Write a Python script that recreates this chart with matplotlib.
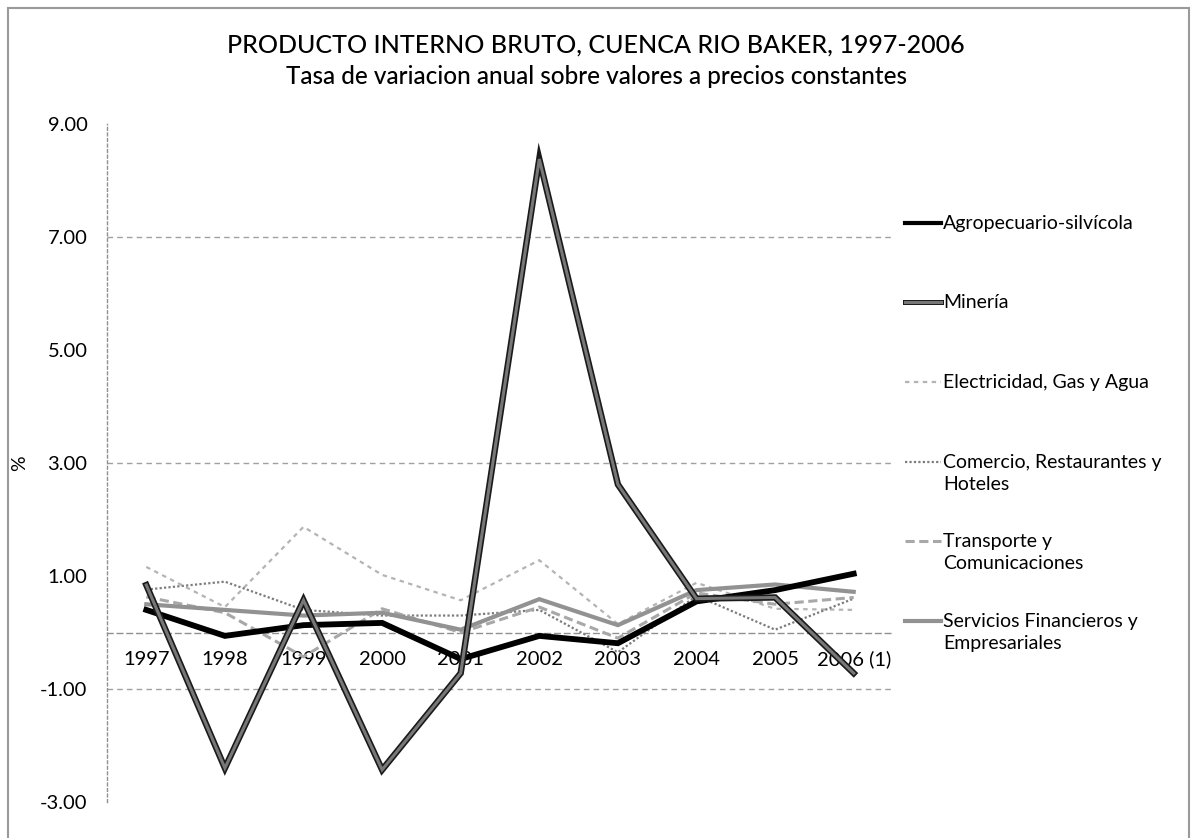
import matplotlib
matplotlib.use("Agg")
import matplotlib.pyplot as plt
import matplotlib.patheffects as pe
from matplotlib.lines import Line2D
from matplotlib.patches import Rectangle

plt.rcParams['font.family'] = ['Lato', 'DejaVu Sans']

years = ['1997', '1998', '1999', '2000', '2001', '2002', '2003', '2004', '2005', '2006 (1)']
agro = [0.40, -0.06, 0.13, 0.17, -0.47, -0.06, -0.19, 0.55, 0.75, 1.04]
mineria = [0.84, -2.40, 0.57, -2.43, -0.72, 8.38, 2.62, 0.60, 0.62, -0.72]
electricidad = [1.16, 0.45, 1.87, 1.02, 0.57, 1.28, 0.15, 0.88, 0.42, 0.40]
comercio = [0.76, 0.90, 0.40, 0.30, 0.30, 0.40, -0.35, 0.65, 0.05, 0.60]
transporte = [0.63, 0.35, -0.43, 0.42, 0.00, 0.45, -0.10, 0.70, 0.50, 0.62]
servicios = [0.50, 0.40, 0.30, 0.35, 0.05, 0.59, 0.13, 0.75, 0.85, 0.72]

series_names = ['Agropecuario-silvícola', 'Minería', 'Electricidad, Gas y Agua',
                'Comercio, Restaurantes y\nHoteles', 'Transporte y\nComunicaciones',
                'Servicios Financieros y\nEmpresariales']
series_values = [agro, mineria, electricidad, comercio, transporte, servicios]
yticks = [-3, -1, 1, 3, 5, 7, 9]
grid_values = [7, 3, -1]

outline = [pe.Stroke(linewidth=4.6, foreground='#1a1a1a'), pe.Normal()]
styles = [
    dict(color='black', lw=4.2, ls='-', zorder=6, path_effects=None),
    dict(color='#777777', lw=2.2, ls='-', zorder=7, path_effects=outline),
    dict(color='#b4b4b4', lw=1.6, ls=(0, (2, 2)), zorder=3, path_effects=None),
    dict(color='#7c7c7c', lw=1.6, ls=(0, (1, 1)), zorder=4, path_effects=None),
    dict(color='#a8a8a8', lw=2.2, ls=(0, (3, 1.5)), zorder=4, path_effects=None),
    dict(color='#929292', lw=3.0, ls='-', zorder=5, path_effects=None),
]

W, H = 1193, 838
fig = plt.figure(figsize=(W / 100, H / 100), dpi=100)
ax = fig.add_axes([107 / W, 1 - 802 / H, (893 - 107) / W, (802 - 124) / H])

for s in ['top', 'right']:
    ax.spines[s].set_visible(False)
ax.spines['bottom'].set_position(('data', 0))
ax.spines['bottom'].set_color('#909090')
ax.spines['bottom'].set_linestyle((0, (4, 3)))
ax.spines['bottom'].set_linewidth(1.0)
ax.spines['left'].set_color('#909090')
ax.spines['left'].set_linestyle((0, (2, 2)))
ax.spines['left'].set_linewidth(1.0)

x = list(range(len(years)))
for vals, st in zip(series_values, styles):
    ln, = ax.plot(x, vals, color=st['color'], lw=st['lw'], ls=st['ls'],
                  zorder=st['zorder'], solid_joinstyle='miter')
    if st['path_effects']:
        ln.set_path_effects(st['path_effects'])

ax.set_xlim(-0.5, len(years) - 0.5)
ax.set_ylim(-3, 9)
ax.set_yticks(yticks)
ax.set_yticklabels([f'{v:.2f}' for v in yticks], fontsize=14.5)
ax.set_xticks(x)
ax.set_xticklabels(years, fontsize=14.5)
ax.tick_params(axis='both', length=0)
ax.tick_params(axis='x', pad=13)
ax.tick_params(axis='y', pad=14)

for g in grid_values:
    ax.axhline(g, color='#a0a0a0', lw=1.0, ls=(0, (4, 3)), zorder=1)

ax.set_ylabel('%', fontsize=14, rotation=90)
ax.yaxis.set_label_coords(-0.1, 0.5)

fig.text(596 / W, 1 - 45 / H, 'PRODUCTO INTERNO BRUTO, CUENCA RIO BAKER, 1997-2006',
         ha='center', va='center', fontsize=18, fontweight='medium')
fig.text(596 / W, 1 - 76 / H, 'Tasa de variacion anual sobre valores a precios constantes',
         ha='center', va='center', fontsize=17.5, fontweight='medium')

# legend
leg_y = [223, 302, 382, 462, 541, 621]
for name, st, yy in zip(series_names, styles, leg_y):
    h = Line2D([905 / W, 941 / W], [1 - yy / H, 1 - yy / H], transform=fig.transFigure,
               color=st['color'], lw=min(st['lw'], 3.0), ls=st['ls'])
    if st['path_effects']:
        h.set_path_effects([pe.Stroke(linewidth=3.6, foreground='#1a1a1a'), pe.Normal()])
    fig.add_artist(h)
    for k, line in enumerate(name.split('\n')):
        fig.text(943 / W, 1 - (yy + k * 22) / H, line, ha='left', va='center', fontsize=14)

fig.add_artist(Rectangle((8 / W, -0.02), (1189 - 8) / W, 1 - 8 / H + 0.02,
                         transform=fig.transFigure, fill=False, edgecolor='#9a9a9a', lw=1.5))

fig.savefig('out.png', dpi=100)
